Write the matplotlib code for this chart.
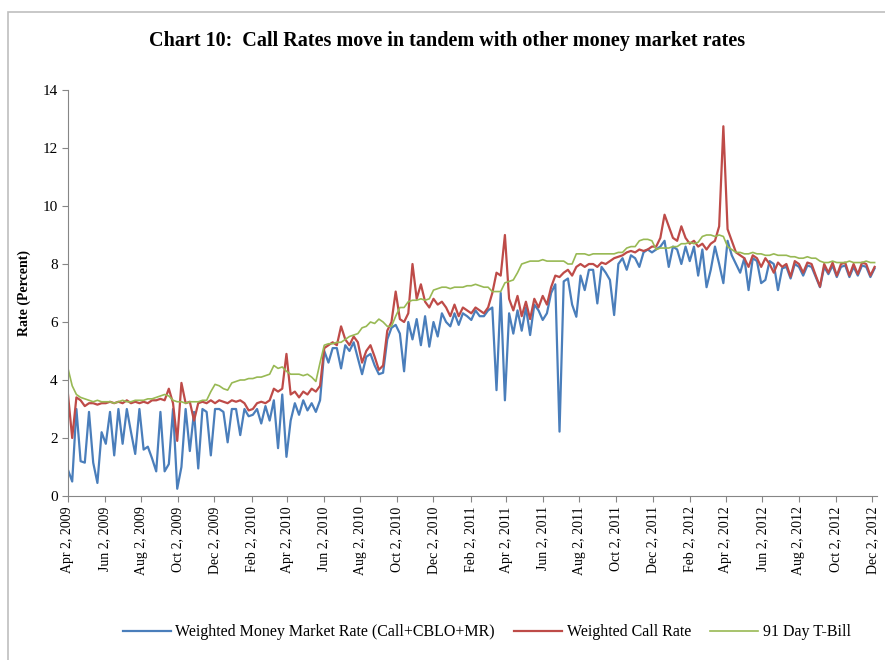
import pandas as pd
import numpy as np
import matplotlib
matplotlib.use('Agg')
import matplotlib.pyplot as plt
from matplotlib.patches import Rectangle

plt.rcParams['font.family'] = ['Liberation Serif', 'DejaVu Serif']

# weekly observations, Apr 2, 2009 onwards
dates = pd.date_range('2009-04-02', periods=193, freq='7D')

money_market = [
    0.9, 0.5, 3.0, 1.2, 1.15, 2.9, 1.15, 0.45, 2.2, 1.8,
    2.9, 1.4, 3.0, 1.8, 3.0, 2.2, 1.45, 3.0, 1.6, 1.7,
    1.3, 0.85, 2.9, 0.85, 1.1, 3.0, 0.25, 1.0, 3.0, 1.55,
    2.9, 0.95, 3.0, 2.9, 1.4, 3.0, 3.0, 2.9, 1.85, 3.0,
    3.0, 2.1, 3.0, 2.75, 2.8, 3.0, 2.5, 3.1, 2.6, 3.3,
    1.65, 3.5, 1.35, 2.6, 3.2, 2.8, 3.3, 2.95, 3.2, 2.9,
    3.3, 5.0, 4.6, 5.1, 5.1, 4.4, 5.2, 5.0, 5.3, 4.75,
    4.2, 4.8, 4.9, 4.5, 4.2, 4.25, 5.4, 5.8, 5.9, 5.6,
    4.3, 6.0, 5.4, 6.1, 5.2, 6.2, 5.15, 6.0, 5.5, 6.3,
    6.0, 5.85, 6.3, 5.9, 6.3, 6.2, 6.07, 6.4, 6.2, 6.2,
    6.4, 6.5, 3.65, 7.0, 3.3, 6.3, 5.6, 6.4, 5.7, 6.5,
    5.55, 6.6, 6.4, 6.07, 6.3, 7.0, 7.3, 2.22, 7.4, 7.5,
    6.6, 6.18, 7.6, 7.1, 7.8, 7.8, 6.64, 7.9, 7.7, 7.45,
    6.24, 8.0, 8.2, 7.8, 8.3, 8.2, 7.9, 8.4, 8.5, 8.4,
    8.5, 8.6, 8.8, 7.9, 8.6, 8.5, 8.0, 8.6, 8.1, 8.6,
    7.6, 8.5, 7.2, 7.8, 8.6, 8.0, 7.34, 8.8, 8.3, 8.0,
    7.7, 8.2, 7.1, 8.2, 8.1, 7.34, 7.45, 8.1, 8.0, 7.1,
    7.85, 7.9, 7.5, 8.0, 7.9, 7.6, 7.95, 7.9, 7.55, 7.2,
    7.9, 7.65, 7.95, 7.55, 7.9, 7.95, 7.55, 7.9, 7.6, 7.95,
    7.9, 7.55, 7.85,
]

call_rate = [
    3.5, 2.0, 3.4, 3.3, 3.1, 3.2, 3.2, 3.15, 3.2, 3.2,
    3.25, 3.2, 3.25, 3.2, 3.3, 3.2, 3.25, 3.2, 3.25, 3.2,
    3.3, 3.3, 3.35, 3.3, 3.7, 3.2, 1.9, 3.9, 3.2, 3.25,
    2.6, 3.2, 3.25, 3.2, 3.3, 3.2, 3.3, 3.25, 3.2, 3.3,
    3.25, 3.3, 3.2, 2.95, 3.0, 3.2, 3.25, 3.2, 3.3, 3.7,
    3.6, 3.7, 4.9, 3.5, 3.6, 3.4, 3.6, 3.5, 3.7, 3.6,
    3.8, 5.1, 5.2, 5.3, 5.2, 5.85, 5.4, 5.2, 5.5, 5.3,
    4.6, 5.0, 5.2, 4.8, 4.35, 4.5, 5.7, 6.0, 7.05, 6.1,
    6.0, 6.3, 8.0, 6.8, 7.3, 6.7, 6.5, 6.8, 6.6, 6.7,
    6.5, 6.2, 6.6, 6.2, 6.5, 6.4, 6.3, 6.5, 6.4, 6.3,
    6.5, 7.0, 7.7, 7.6, 9.0, 6.8, 6.4, 6.9, 6.2, 6.7,
    6.1, 6.8, 6.5, 6.9, 6.6, 7.2, 7.6, 7.55, 7.7, 7.8,
    7.6, 7.9, 8.0, 7.9, 8.0, 8.0, 7.9, 8.05, 8.0, 8.1,
    8.2, 8.25, 8.3, 8.4, 8.45, 8.4, 8.5, 8.45, 8.5, 8.6,
    8.6, 8.9, 9.7, 9.3, 8.9, 8.8, 9.3, 8.9, 8.7, 8.8,
    8.6, 8.7, 8.5, 8.7, 8.8, 9.3, 12.75, 9.2, 8.8, 8.4,
    8.3, 8.2, 7.9, 8.3, 8.2, 7.9, 8.2, 8.0, 7.7, 8.05,
    7.9, 8.0, 7.56, 8.1, 8.0, 7.7, 8.05, 8.0, 7.6, 7.22,
    8.0, 7.7, 8.05, 7.6, 8.0, 8.05, 7.6, 8.0, 7.65, 8.05,
    8.0, 7.6, 7.9,
]

tbill_91 = [
    4.4, 3.8, 3.5, 3.4, 3.35, 3.3, 3.25, 3.3, 3.25, 3.25,
    3.25, 3.2, 3.25, 3.3, 3.25, 3.25, 3.3, 3.3, 3.3, 3.35,
    3.35, 3.4, 3.45, 3.5, 3.45, 3.3, 3.25, 3.25, 3.2, 3.25,
    3.25, 3.25, 3.3, 3.3, 3.6, 3.85, 3.8, 3.7, 3.65, 3.9,
    3.95, 4.0, 4.0, 4.05, 4.05, 4.1, 4.1, 4.15, 4.2, 4.5,
    4.4, 4.45, 4.3, 4.2, 4.2, 4.2, 4.15, 4.2, 4.1, 3.95,
    4.6, 5.2, 5.25, 5.25, 5.3, 5.3, 5.4, 5.5, 5.55, 5.6,
    5.8, 5.85, 6.0, 5.95, 6.1, 6.0, 5.85, 5.85, 6.2, 6.5,
    6.5, 6.7, 6.75, 6.75, 6.8, 6.75, 6.8, 7.1, 7.15, 7.2,
    7.2, 7.15, 7.2, 7.2, 7.2, 7.25, 7.25, 7.3, 7.25, 7.2,
    7.2, 7.05, 7.05, 7.05, 7.35, 7.4, 7.45, 7.7, 8.0, 8.05,
    8.1, 8.1, 8.1, 8.15, 8.1, 8.1, 8.1, 8.1, 8.1, 8.0,
    8.0, 8.35, 8.35, 8.35, 8.3, 8.35, 8.35, 8.35, 8.35, 8.35,
    8.35, 8.4, 8.4, 8.55, 8.6, 8.6, 8.8, 8.85, 8.85, 8.8,
    8.5, 8.55, 8.55, 8.55, 8.6, 8.6, 8.7, 8.7, 8.75, 8.7,
    8.75, 8.95, 9.0, 9.0, 8.95, 9.0, 8.95, 8.6, 8.5, 8.4,
    8.4, 8.35, 8.35, 8.4, 8.35, 8.35, 8.3, 8.3, 8.35, 8.3,
    8.3, 8.3, 8.25, 8.25, 8.2, 8.2, 8.25, 8.2, 8.2, 8.1,
    8.05, 8.05, 8.1, 8.05, 8.05, 8.05, 8.1, 8.05, 8.05, 8.05,
    8.1, 8.05, 8.05,
]

labels = ['Weighted Money Market Rate (Call+CBLO+MR)', 'Weighted Call Rate', '91 Day T-Bill']
colors = ['#4A7EBB', '#BE4B48', '#98B954']

fig = plt.figure(figsize=(8.85, 6.6), dpi=100)
ax = fig.add_axes([68 / 885, 1 - 496 / 660, (877 - 68) / 885, (496 - 90) / 660])

ax.plot(dates, money_market, color=colors[0], lw=1.6, label=labels[0])
ax.plot(dates, call_rate, color=colors[1], lw=1.6, label=labels[1])
ax.plot(dates, tbill_91, color=colors[2], lw=1.2, label=labels[2])

ax.set_xlim(pd.Timestamp('2009-04-02'), pd.Timestamp('2012-12-10'))
ax.set_ylim(0, 14)
ax.set_yticks(np.arange(0, 15, 2))

# tick every other month on the 2nd: Apr 2, 2009 ... Dec 2, 2012
ticks = pd.date_range('2009-04-01', '2012-12-01', freq='2MS') + pd.Timedelta(days=1)
ax.set_xticks(ticks)
ax.set_xticklabels([d.strftime('%b ') + str(d.day) + d.strftime(', %Y') for d in ticks],
                   rotation=90, fontsize=10)
ax.tick_params(axis='y', labelsize=11, length=4, color='#868686')
ax.tick_params(axis='x', length=4, color='#868686')

for s in ['top', 'right']:
    ax.spines[s].set_visible(False)
for s in ['left', 'bottom']:
    ax.spines[s].set_color('#868686')

ax.set_ylabel('Rate (Percent)', fontsize=10, fontweight='bold', labelpad=8)

fig.text(0.505, 0.938, 'Chart 10:  Call Rates move in tandem with other money market rates',
         ha='center', va='center', fontsize=14.5, fontweight='bold')

fig.legend(loc='center', bbox_to_anchor=(0.55, 0.042), ncol=3, frameon=False,
           fontsize=11.5, handlelength=3, columnspacing=1.2, handletextpad=0.3)

fig.add_artist(Rectangle((8 / 885, -0.05), 1.1, 1 - 12 / 660 + 0.05, transform=fig.transFigure,
                         fill=False, edgecolor='#BFBFBF', lw=1.2))

fig.savefig('out.png', dpi=100)
